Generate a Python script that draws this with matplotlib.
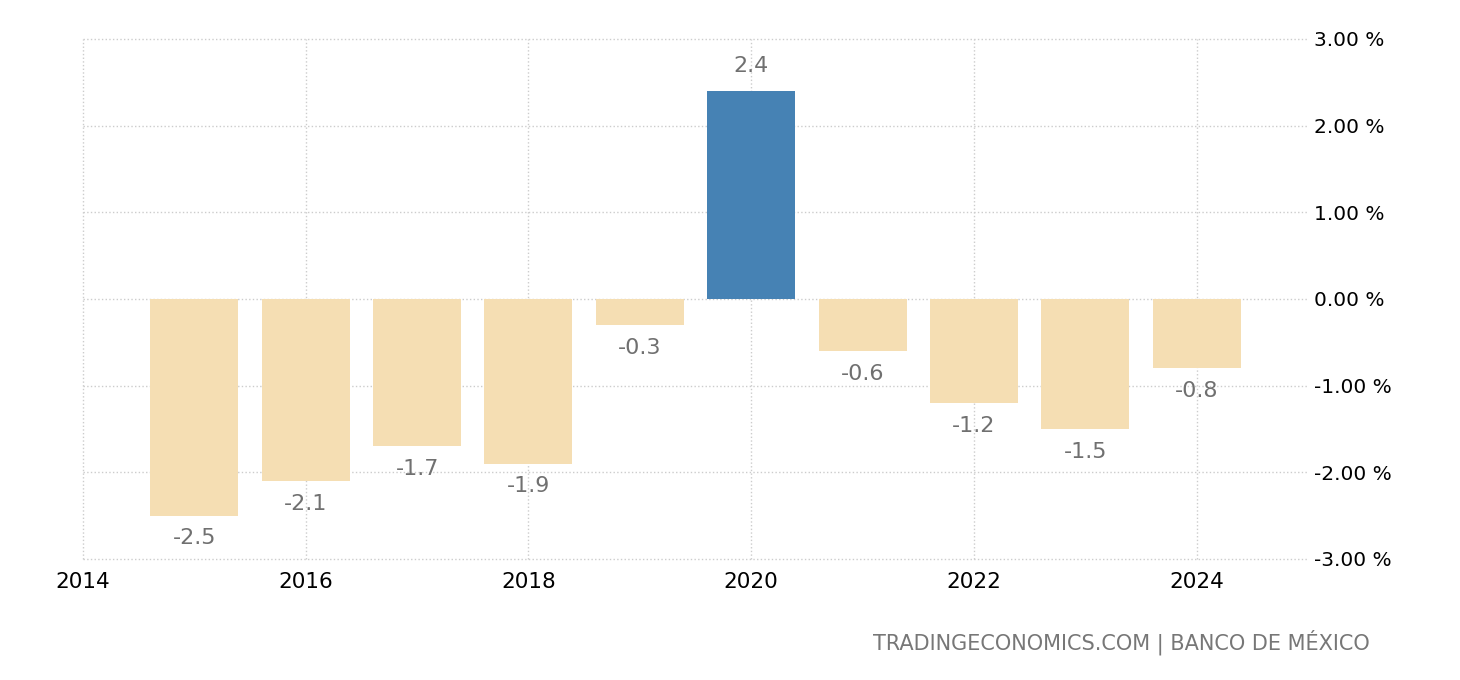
import matplotlib
matplotlib.use("Agg")
import matplotlib.pyplot as plt
from matplotlib.ticker import FixedLocator

years = [2015, 2016, 2017, 2018, 2019, 2020, 2021, 2022, 2023, 2024]
values = [-2.5, -2.1, -1.7, -1.9, -0.3, 2.4, -0.6, -1.2, -1.5, -0.8]
xticks = [2014, 2016, 2018, 2020, 2022, 2024]
yticks = [-3, -2, -1, 0, 1, 2, 3]

fig = plt.figure(figsize=(14.6, 6.8), dpi=100)
ax = fig.add_axes([83/1460, 1-559/680, (1308-83)/1460, (559-39)/680])

colors = ["#4682B4" if v > 0 else "#F5DEB3" for v in values]
ax.bar(years, values, width=0.79, color=colors, zorder=2)

for x, v in zip(years, values):
    if v >= 0:
        ax.annotate(f"{v:.1f}", (x, v), xytext=(0, 11), textcoords="offset points",
                    ha="center", va="bottom", fontsize=16, color="#707070")
    else:
        ax.annotate(f"{v:.1f}", (x, v), xytext=(0, -9), textcoords="offset points",
                    ha="center", va="top", fontsize=16, color="#707070")

ax.set_xlim(2014, 2025)
ax.set_ylim(-3, 3)
ax.xaxis.set_major_locator(FixedLocator(xticks))
ax.set_xticklabels([str(t) for t in xticks])
ax.yaxis.set_major_locator(FixedLocator(yticks))
ax.set_yticklabels([f"{t:.2f} %" for t in yticks])
ax.yaxis.tick_right()
ax.tick_params(axis="both", length=0, colors="black")
ax.tick_params(axis="y", pad=4, labelsize=14.5)
ax.tick_params(axis="x", pad=9, labelsize=15.5)
for s in ax.spines.values():
    s.set_visible(False)
ax.grid(True, color="#cccccc", linestyle=":", linewidth=1, zorder=0)
ax.set_axisbelow(True)
for gl in ax.get_ygridlines() + ax.get_xgridlines():
    gl.set_clip_on(False)

fig.text(1370/1460, 1-642/680, "TRADINGECONOMICS.COM | BANCO DE MÉXICO",
         ha="right", va="center", fontsize=15, color="#777777")

fig.savefig("out.png", dpi=100)
